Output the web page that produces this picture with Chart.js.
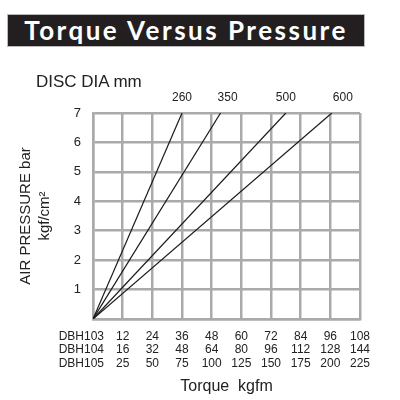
<!DOCTYPE html>
<html>
<head>
<meta charset="utf-8">
<script src="https://cdn.jsdelivr.net/npm/chart.js@4/dist/chart.umd.min.js"></script>
<style>
  html, body { margin: 0; padding: 0; background: #fff; }
  #wrap { position: relative; width: 400px; height: 400px; }
  #title {
    position: absolute; left: 7px; top: 14px; width: 358px; height: 33px;
    background: #231f20; border: 1px solid #bbb; box-sizing: border-box;
    color: #fff; font-family: Lato, sans-serif; font-weight: 700; font-size: 26px;
    letter-spacing: 2.5px; text-align: center; line-height: 31px;
  }
  #disc {
    position: absolute; left: 36px; top: 72px;
    font-family: "Liberation Sans", Arial, sans-serif; font-size: 17px; color: #222;
  }
  canvas { position: absolute; left: 0; top: 0; }
</style>
</head>
<body>
<div id="wrap">
  <canvas id="c" width="400" height="400"></canvas>
  <div id="title">Torque Versus Pressure</div>
  <div id="disc">DISC DIA mm</div>
</div>
<script>
// ---- data ----
const discDiameters = ['260', '350', '500', '600'];
const torqueAtMax = [3.0, 4.3, 6.5, 8.05];   // x (grid units) where each line reaches 7 bar
const maxPressure = 7;
const models = ['DBH103', 'DBH104', 'DBH105'];
const torqueDBH103 = [12, 24, 36, 48, 60, 72, 84, 96, 108];
const torqueDBH104 = [16, 32, 48, 64, 80, 96, 112, 128, 144];
const torqueDBH105 = [25, 50, 75, 100, 125, 150, 175, 200, 225];
const pressureTicks = [1, 2, 3, 4, 5, 6, 7];

const tickFontX = { family: '"Liberation Sans", Arial, sans-serif', size: 12, lineHeight: 1.12 };
const tickPadX = 11;
const gridColor = '#aaaaaa';

const datasets = discDiameters.map((d, i) => ({
  label: d,
  data: [{ x: 0, y: 0 }, { x: torqueAtMax[i], y: maxPressure }],
  borderColor: '#1a1a1a',
  borderWidth: 1.2,
  pointRadius: 0,
  fill: false,
  tension: 0
}));

const extraText = {
  id: 'extraText',
  afterDraw(chart) {
    const ctx = chart.ctx;
    const xs = chart.scales.x;
    const ca = chart.chartArea;
    ctx.save();
    ctx.fillStyle = '#222';
    ctx.font = '12px "Liberation Sans", Arial, sans-serif';
    ctx.textAlign = 'center';
    ctx.textBaseline = 'middle';
    const shift = [0, 7, 0, 11];
    discDiameters.forEach((d, i) => {
      ctx.fillText(d, xs.getPixelForValue(torqueAtMax[i]) + shift[i], ca.top - 15);
    });
    ctx.textAlign = 'right';
    const lh = tickFontX.size * tickFontX.lineHeight;
    models.forEach((m, i) => {
      ctx.fillText(m, xs.getPixelForValue(0) + 11, ca.bottom + tickPadX + lh / 2 + i * lh);
    });
    ctx.restore();
  }
};

new Chart(document.getElementById('c'), {
  type: 'scatter',
  data: { datasets },
  plugins: [extraText],
  options: {
    responsive: false,
    animation: false,
    showLine: true,
    layout: { padding: { top: 113, right: 40, left: 0, bottom: 0 } },
    plugins: { legend: { display: false }, tooltip: { enabled: false } },
    scales: {
      x: {
        type: 'linear', min: 0, max: 9,
        afterFit(s) { s.height = 81; },
        grid: { color: gridColor, lineWidth: 2.5, drawTicks: false },
        border: { color: gridColor, width: 2.5 },
        ticks: {
          stepSize: 1,
          padding: tickPadX,
          color: '#222',
          font: tickFontX,
          maxRotation: 0,
          autoSkip: false,
          callback: (v) => {
            const i = Math.round(v) - 1;
            if (i < 0) return '';
            return [String(torqueDBH103[i]), String(torqueDBH104[i]), String(torqueDBH105[i])];
          }
        },
        title: {
          display: true, text: 'Torque  kgfm', color: '#222',
          font: { family: '"Liberation Sans", Arial, sans-serif', size: 16, lineHeight: 1.2 },
          padding: { top: 0, bottom: 4 }
        }
      },
      y: {
        type: 'linear', min: 0, max: 7,
        afterFit(s) { s.width = 93; },
        grid: { color: gridColor, lineWidth: 2.5, drawTicks: false },
        border: { color: gridColor, width: 2.5 },
        ticks: {
          stepSize: 1,
          padding: 12,
          color: '#222',
          font: { family: '"Liberation Sans", Arial, sans-serif', size: 13 },
          callback: (v) => pressureTicks.includes(v) ? String(v) : ''
        },
        title: {
          display: true, text: ['AIR PRESSURE bar', 'kgf/cm\u00B2'], color: '#222',
          font: { family: '"Liberation Sans", Arial, sans-serif', size: 15, lineHeight: 1.27 },
          padding: { top: 16, bottom: 0 }
        }
      }
    }
  }
});
</script>
</body>
</html>
